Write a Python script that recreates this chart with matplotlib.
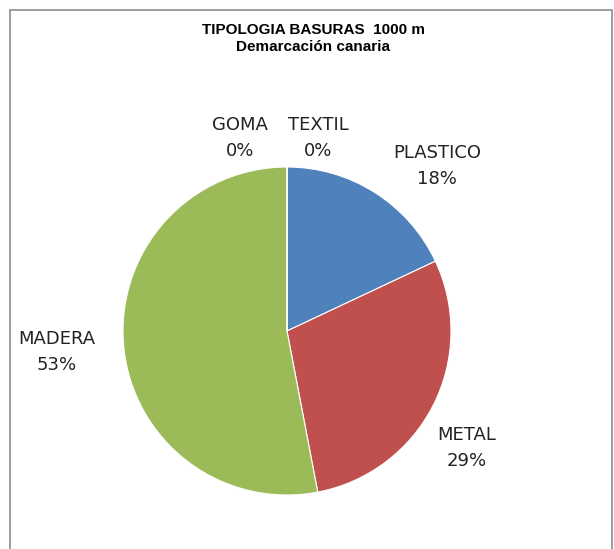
import matplotlib.pyplot as plt
from matplotlib.patches import Rectangle

# datos
categorias = ["PLASTICO", "METAL", "MADERA", "GOMA", "TEXTIL"]
valores = [18, 29, 53, 0.0, 0.0]
colores = ["#4F81BD", "#C0504D", "#9BBB59", "#8064A2", "#4BACC6"]

fig = plt.figure(figsize=(6.14, 5.49), dpi=100)
fig.patch.set_facecolor("white")

# marco del grafico
fig.patches.append(Rectangle((10 / 614, -0.01), 602 / 614, (539 / 549) + 0.01,
                             transform=fig.transFigure, fill=False,
                             edgecolor="#8c8c8c", linewidth=1.2))

# ejes en pixeles
ax = fig.add_axes([0, 0, 1, 1])
centro = (287, 218)
radio = 164

wedges, _ = ax.pie(valores, colors=colores, startangle=90, counterclock=False,
                   center=centro, radius=radio,
                   wedgeprops=dict(edgecolor="white", linewidth=0.8))
ax.set_xlim(0, 614)
ax.set_ylim(0, 549)
ax.set_aspect("auto")
ax.axis("off")

total = sum(valores)
# posicion de las etiquetas respecto al centro (como las coloca Excel)
offsets = {"PLASTICO": (150, 165), "METAL": (180, -117), "MADERA": (-230, -21),
           "GOMA": (-47, 193), "TEXTIL": (31, 193)}
for cat, v in zip(categorias, valores):
    pct = f"{v / total * 100:.0f}%"
    x = centro[0] + offsets[cat][0]
    y = centro[1] + offsets[cat][1]
    ax.text(x, y, f"{cat}\n{pct}", ha="center", va="center", fontsize=13,
            color="#222222", linespacing=1.55)

fig.text(313 / 614, 1 - 30 / 549, "TIPOLOGIA BASURAS  1000 m",
         ha="center", va="center", fontsize=11, fontweight="bold",
         family="Liberation Sans")
fig.text(313 / 614, 1 - 47 / 549, "Demarcación canaria",
         ha="center", va="center", fontsize=11, fontweight="bold",
         family="Liberation Sans")

fig.savefig("out.png", dpi=100)
